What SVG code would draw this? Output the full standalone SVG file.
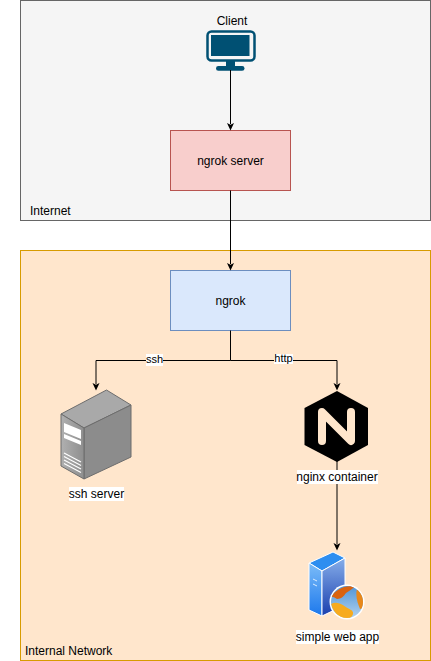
<svg xmlns="http://www.w3.org/2000/svg" width="431" height="661" viewBox="0 0 431 661">
<defs>
<style>
text{font-family:"Liberation Sans",Arial,sans-serif;font-size:12px;fill:#000}
.m{text-anchor:middle}
.s{font-size:11px}
.c{fill:none;stroke:#000;stroke-width:1}
.a{fill:#000}
.lb{fill:#fff}
</style>
<linearGradient id="srv" x1="0" y1="0" x2="0" y2="1"><stop offset="0" stop-color="#86aeea"/><stop offset="1" stop-color="#1a3fae"/></linearGradient>
<linearGradient id="srvl" x1="0" y1="0" x2="0" y2="1"><stop offset="0" stop-color="#7cbcf8"/><stop offset="1" stop-color="#1c78ec"/></linearGradient>
<linearGradient id="globe" x1="0" y1="0" x2="0" y2="1"><stop offset="0" stop-color="#4f95d8"/><stop offset="1" stop-color="#b3d2ee"/></linearGradient>
<linearGradient id="gs" x1="0" y1="0" x2="1" y2="0"><stop offset="0" stop-color="#b0b0b0"/><stop offset="1" stop-color="#8e8e8e"/></linearGradient>
<clipPath id="gc"><circle cx="347" cy="602" r="16"/></clipPath>
</defs>

<g id="internet"><rect x="20.500" y="0.500" width="410" height="220" fill="#f5f5f5" stroke="#666"/><text x="30" y="215">Internet</text></g>
<g id="internal-network"><rect x="20.500" y="250.500" width="410" height="410" fill="#ffe6cc" stroke="#d79b00"/><text x="25" y="655">Internal Network</text></g>

<g id="ngrok-server"><rect x="170.500" y="130.500" width="120" height="60" fill="#f8cecc" stroke="#b85450"/><text class="m" x="230.500" y="165">ngrok server</text></g>
<g id="ngrok"><rect x="170.500" y="270.500" width="120" height="60" fill="#dae8fc" stroke="#6c8ebf"/><text class="m" x="230.500" y="305">ngrok</text></g>

<g id="client">
<text class="m" x="232" y="25">Client</text>
<rect x="207.500" y="31.500" width="47" height="29" rx="4" fill="#f5f5f5" stroke="#005073" stroke-width="2.500"/>
<rect x="211" y="35" width="38.500" height="21" fill="#005073"/>
<rect x="226" y="61" width="9" height="6" fill="#005073"/>
<rect x="216" y="66" width="28.500" height="4.800" rx="2.400" fill="#005073"/>
</g>

<g id="connectors">
<path class="c" d="M230.500 70V124"/><path class="a" d="M230.500 130.500l-3.500-7.500 3.500 1.800 3.500-1.800z"/>
<path class="c" d="M230.500 190.500V264"/><path class="a" d="M230.500 270.500l-3.500-7.500 3.500 1.800 3.500-1.800z"/>
<path class="c" d="M230.500 330.500V360.500H96V384"/><path class="a" d="M96 390.500l-3.500-7.500 3.500 1.800 3.500-1.800z"/>
<path class="c" d="M230.500 360.500H337V384"/><path class="a" d="M337 390.500l-3.500-7.500 3.500 1.800 3.500-1.800z"/>
<path class="c" d="M337 460V544"/><path class="a" d="M337 550.500l-3.500-7.500 3.500 1.800 3.500-1.800z"/>
</g>
<g id="edge-labels">
<rect class="lb" x="146" y="354" width="17" height="12"/><text class="m s" x="154.500" y="363">ssh</text>
<rect class="lb" x="274" y="354" width="19" height="10"/><text class="m s" x="283.500" y="362">http</text>
</g>

<g id="ssh-server">
<path d="M61 414L106.500 390L131 405L84 428Z" fill="#a9a9a9" stroke="#6d6d6d"/>
<path d="M84 428L131 405V457L84 479Z" fill="#8c8c8c" stroke="#6d6d6d"/>
<path d="M61 414L84 428V479L61 466Z" fill="url(#gs)" stroke="#6d6d6d"/>
<path d="M64 423L81 430V439L64 432Z M64 434L81 441V445L64 438Z" fill="#fff"/>
<path d="M64 453L81 462M64 456.500L81 465.500M64 460L81 469M64 463.500L81 472.500" stroke="#fff" stroke-width="1.200" fill="none"/>
<rect class="lb" x="69" y="487" width="55" height="14"/><text class="m" x="96.500" y="498">ssh server</text>
</g>

<g id="nginx-container">
<path d="M337 391L368 408V445L337 462L304.500 445V408Z" fill="#000"/>
<path d="M322 441V412L351 441V412" fill="none" stroke="#ffe6cc" stroke-width="8" stroke-linecap="round" stroke-linejoin="round"/>
<rect class="lb" x="297" y="470" width="81" height="14"/><text class="m" x="337" y="481">nginx container</text>
</g>

<g id="simple-web-app">
<path d="M309 563L333 552L345 558L322 571Z" fill="#2e8ef0" stroke="#fff"/>
<path d="M309 563L322 571V616L309 610Z" fill="url(#srvl)" stroke="#fff"/>
<path d="M322 571L345 558V605L322 616Z" fill="url(#srv)" stroke="#fff"/>
<path d="M313 579l4 2M313 584l4 2" stroke="#d9ecff" stroke-width="1"/>
<circle cx="347" cy="602" r="17.500" fill="#fff"/>
<circle cx="347" cy="602" r="16" fill="url(#globe)"/>
<g clip-path="url(#gc)">
<path d="M330 597C336 590 344 585 356 586C352 589 349 591 346 593C344 596 341 599 337 599C335 598 333 596 330 597Z" fill="#d9620e"/>
<path d="M357 589L364 595V608L360 609C358 604 355 596 357 589Z" fill="#e8881a"/>
<path d="M331 604C338 600 344 606 351 610C355 612 353 618 347 619C340 619 333 612 331 604Z" fill="#f7ab1e"/>
</g>
<rect class="lb" x="296" y="630" width="83" height="14"/><text class="m" x="337.500" y="641">simple web app</text>
</g>
</svg>
